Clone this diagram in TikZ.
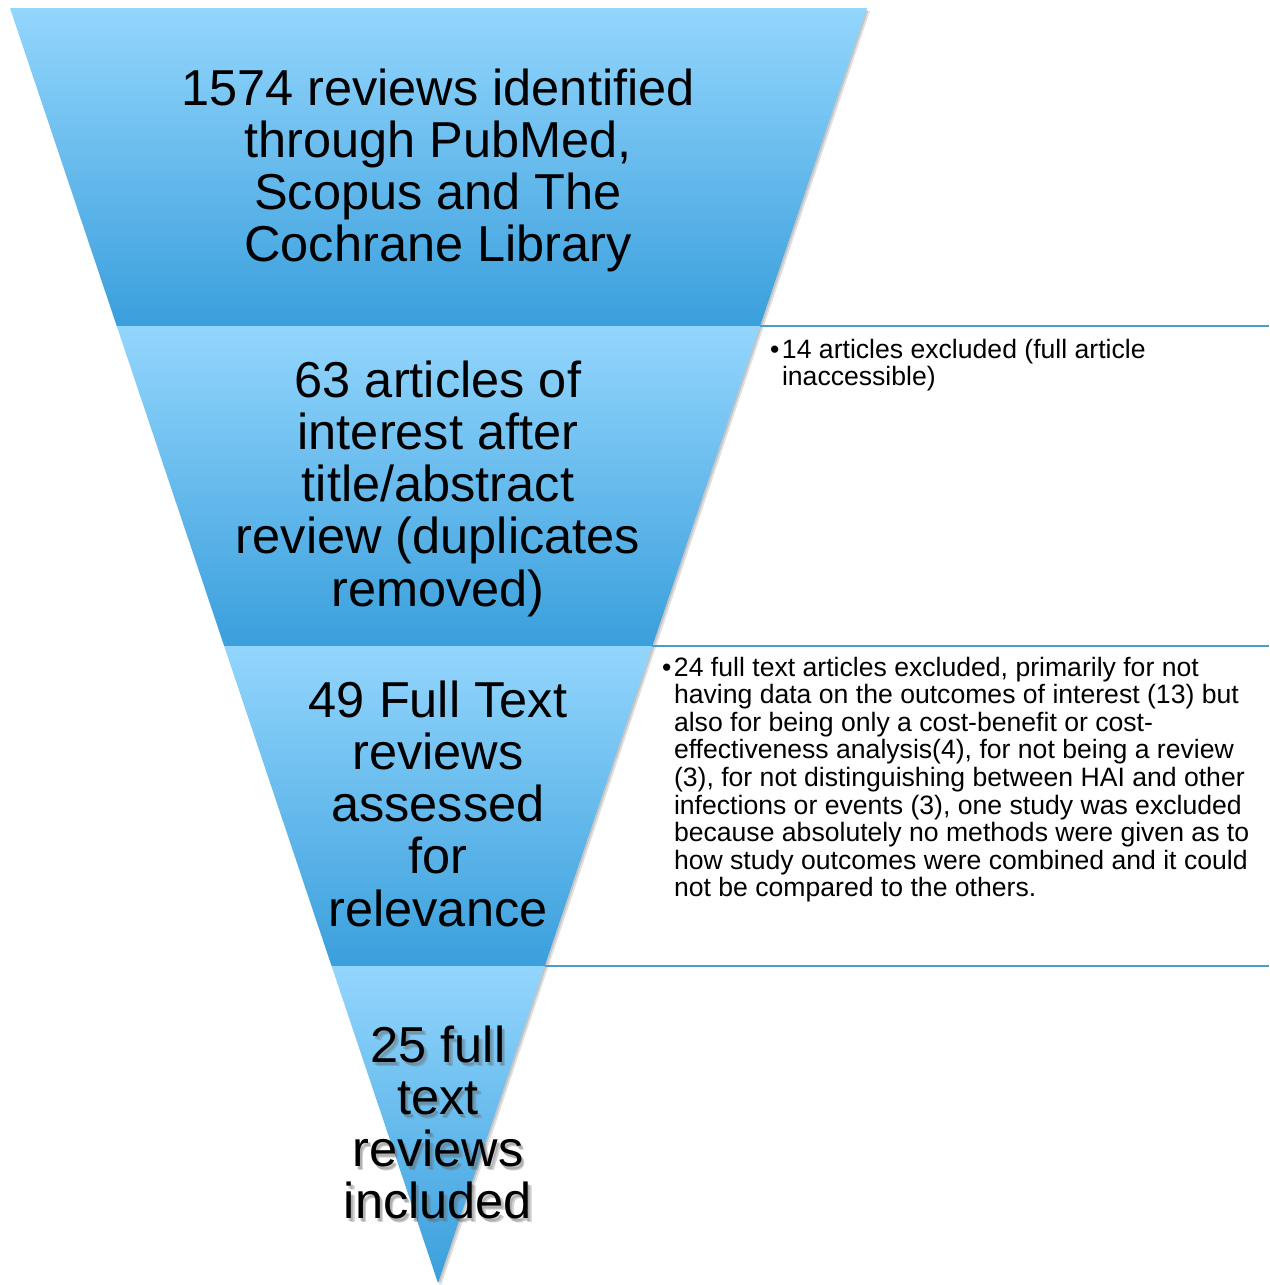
\documentclass[tikz,border=0pt]{standalone}
\usepackage{fontspec}
\setmainfont{Liberation Sans}
\definecolor{fLight}{HTML}{93D6FD}
\definecolor{fDark}{HTML}{3A9FDC}
\definecolor{sepLine}{HTML}{4A9BD0}
\newcommand\biglines[1]{\begin{tabular}[t]{@{}c@{}}#1\end{tabular}}
\newcommand\bulletlines[1]{\begin{tabular}[t]{@{}l@{\hspace{2.5pt}}l@{}}#1\end{tabular}}
\begin{document}
\begin{tikzpicture}[x=1pt,y=-1pt,
  band/.style={top color=fLight,bottom color=fDark},
  bigtext/.style={font=\fontsize{50.5}{52.3}\selectfont, inner sep=0pt, anchor=base},
  sidetext/.style={font=\fontsize{26.6}{27.6}\selectfont, inner sep=0pt, anchor=base west},
  sepline/.style={draw=sepLine, line width=1.6pt},
  shadowtext/.style={bigtext, text=black!60, opacity=0.3}]
\useasboundingbox[fill=white] (0,0) rectangle (1269,1285);
% funnel corner coordinates
\coordinate (tl) at (10,8);
\coordinate (tr) at (867,8);
\coordinate (l1) at (116.75,326);
\coordinate (r1) at (760.0,326);
\coordinate (l2) at (224.17,646);
\coordinate (r2) at (652.33,646);
\coordinate (l3) at (331.59,966);
\coordinate (r3) at (544.66,966);
\coordinate (ap) at (438,1283);
% soft shadow
\fill[black, opacity=0.12] ([shift={(3,3)}]tl) -- ([shift={(3,3)}]tr) -- ([shift={(3,3)}]ap) -- cycle;
\fill[black, opacity=0.12] ([shift={(1.5,1.5)}]tl) -- ([shift={(1.5,1.5)}]tr) -- ([shift={(1.5,1.5)}]ap) -- cycle;
% bands
\path[band] (tl) -- (tr) -- (r1) -- (l1) -- cycle;
\path[band] (l1) -- (r1) -- (r2) -- (l2) -- cycle;
\path[band] (l2) -- (r2) -- (r3) -- (l3) -- cycle;
\path[band] (l3) -- (r3) -- (ap) -- cycle;
% separators to the right
\coordinate (e1) at (1269,326);
\coordinate (e2) at (1269,646);
\coordinate (e3) at (1269,966);
\draw[sepline] (r1) -- (e1);
\draw[sepline] (r2) -- (e2);
\draw[sepline] (r3) -- (e3);
% band texts
\node[bigtext] (t1) at (438,105) {\biglines{1574 reviews identified\\ through PubMed,\\ Scopus and The\\ Cochrane Library}};
\node[bigtext] (t2) at (438,397) {\biglines{63 articles of\\ interest after\\ title/abstract\\ review (duplicates\\ removed)}};
\node[bigtext] (t3) at (438,717) {\biglines{49 Full Text\\ reviews\\ assessed\\ for\\ relevance}};
\node[shadowtext] (t4s) at (440,1065) {\biglines{25 full\\ text\\ reviews\\ included}};
\node[shadowtext] (t4t) at (441.5,1066) {\biglines{25 full\\ text\\ reviews\\ included}};
\node[bigtext] (t4) at (438,1062) {\biglines{25 full\\ text\\ reviews\\ included}};
% side texts
\node[sidetext] (s1) at (770,358) {\bulletlines{•&14 articles excluded (full article\\ &inaccessible)}};
\node[sidetext] (s2) at (662,676) {\bulletlines{•&24 full text articles excluded, primarily for not\\
 &having data on the outcomes of interest (13) but\\
 &also for being only a cost-benefit or cost-\\
 &effectiveness analysis(4), for not being a review\\
 &(3), for not distinguishing between HAI and other\\
 &infections or events (3), one study was excluded\\
 &because absolutely no methods were given as to\\
 &how study outcomes were combined and it could\\
 &not be compared to the others.}};
\end{tikzpicture}
\end{document}
